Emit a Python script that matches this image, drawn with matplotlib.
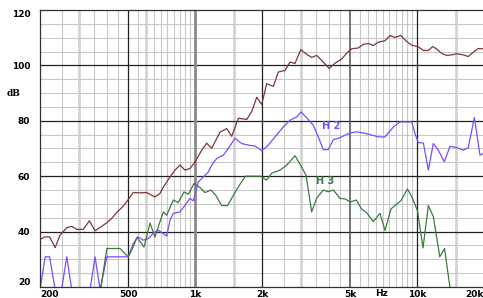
import matplotlib

matplotlib.use("Agg")
import matplotlib.pyplot as plt
from matplotlib.ticker import NullLocator

# fundamental (brown)
fund_freq = [200, 211, 221, 234, 246, 264, 278, 293, 313, 334,
             354, 373, 400, 421, 446, 474, 500, 526, 564, 605,
             659, 694, 719, 770, 811, 854, 900, 948, 1000, 1070,
             1127, 1187, 1294, 1387, 1461, 1565, 1708, 1798, 1894, 1994,
             2100, 2250, 2369, 2539, 2674, 2817, 2988, 3180, 3349, 3528,
             3777, 4020, 4266, 4571, 4814, 5070, 5430, 5720, 6025, 6346,
             6683, 7162, 7546, 7944, 8430, 8975, 9450, 10120, 10660, 11230,
             11750, 12250, 12900, 13590, 14310, 15070, 16140, 16990, 17900, 18850, 19800]
fund_db = [37.2, 38.1, 38.1, 34.2, 38.7, 41.4, 41.9, 40.8, 40.8, 43.9,
           40.3, 41.5, 43.2, 44.8, 47.1, 49.2, 51.6, 54.1, 54.0, 54.1,
           52.5, 53.8, 56.1, 59.7, 62.2, 64.0, 62.2, 62.8, 65.2, 69.4,
           71.9, 70.1, 75.9, 77.2, 74.4, 80.9, 80.5, 83.4, 88.5, 85.9,
           93.4, 92.4, 97.6, 98.2, 101.2, 100.7, 105.7, 104.0, 102.9, 103.6,
           101.2, 98.9, 100.8, 102.3, 104.4, 106.0, 106.3, 107.6, 107.9, 107.2,
           108.4, 108.9, 110.8, 110.1, 110.8, 108.6, 107.3, 106.7, 105.4, 105.4,
           106.8, 105.9, 104.3, 103.6, 103.8, 104.2, 103.8, 103.2, 104.8, 106.1, 106.0]

# second harmonic (purple); 19 = below the bottom of the chart
h2_freq = [200, 211, 221, 234, 250, 264, 278, 336, 354, 373,
           400, 500, 526, 554, 584, 615, 648, 682, 744, 770,
           797, 854, 900, 948, 981, 1033, 1088, 1146, 1187, 1250,
           1294, 1339, 1410, 1511, 1620, 1735, 1860, 1994, 2135, 2290,
           2494, 2674, 2867, 2997, 3180, 3404, 3586, 3777, 3977, 4191,
           4492, 4731, 4984, 5341, 5720, 6133, 6683, 7162, 7546, 7810,
           8369, 9450, 9778, 10120, 10660, 11230, 11820, 12450, 13250, 14060,
           15070, 16140, 16990, 18090, 19190, 19800]
h2_db = [19, 30.9, 30.9, 19, 19, 30.9, 19, 19, 30.9, 19,
         30.9, 30.9, 35.7, 38.1, 36.9, 37.5, 39.4, 40.5, 38.4, 44.1,
         46.6, 47.1, 49.5, 52.0, 51.1, 57.9, 59.7, 61.5, 64.0, 66.4,
         67.0, 67.6, 70.0, 73.7, 71.8, 71.2, 70.9, 69.2, 71.2, 74.2,
         77.8, 80.2, 81.4, 83.2, 81.1, 78.4, 74.2, 69.6, 69.6, 73.2,
         73.9, 74.8, 75.6, 76.0, 75.6, 75.0, 74.2, 74.2, 76.3, 77.8,
         79.6, 79.6, 75.4, 72.1, 72.0, 62.2, 71.8, 69.4, 65.2, 70.8,
         70.3, 69.4, 70.3, 81.2, 67.6, 68.2]

# third harmonic (green)
h3_freq = [375, 400, 458, 500, 526, 547, 588, 626, 659, 694,
           719, 744, 797, 839, 891, 933, 988, 1019, 1051, 1107,
           1179, 1241, 1317, 1399, 1488, 1592, 1686, 1803, 1969, 2096,
           2212, 2410, 2585, 2817, 2982, 3157, 3349, 3528, 3777, 3977,
           4191, 4492, 4731, 4984, 5319, 5623, 5925, 6346, 6802, 7162,
           7623, 8453, 9046, 9530, 10040, 10625, 11230, 11820, 12640, 13280, 14100]
h3_db = [19, 33.9, 33.9, 30.9, 34.5, 38.0, 34.4, 43.1, 38.0, 43.6,
         47.1, 45.9, 51.4, 50.5, 54.3, 53.5, 57.4, 56.6, 55.9, 54.1,
         55.0, 53.0, 49.4, 49.4, 53.2, 57.1, 60.0, 60.0, 60.0, 58.6,
         61.1, 62.2, 64.0, 67.4, 64.0, 60.4, 47.1, 52.1, 55.0, 54.4,
         55.0, 52.0, 51.8, 50.7, 51.4, 48.1, 46.8, 43.6, 46.6, 40.4,
         48.2, 51.2, 55.4, 52.0, 47.4, 34.1, 49.4, 45.5, 30.9, 33.9, 19]

x_ticks = [200, 500, 1000, 2000, 5000, 10000, 20000]
x_labels = ["200", "500", "1k", "2k", "5k", "10k", "20k"]
y_ticks = [20, 40, 60, 80, 100, 120]

FUND_COLOR = "#7a3838"
H2_COLOR = "#7b4dff"
H3_COLOR = "#3d7a3d"

fig = plt.figure(figsize=(4.83, 2.98), dpi=100)
ax = fig.add_axes([40 / 483, 11 / 298, 444 / 483, 277 / 298])
ax.set_xscale("log")
ax.set_xlim(200, 20000)
ax.set_ylim(20, 120)

# light grid
minor_x = ([250, 350, 400, 450, 550, 650, 700, 750, 800, 850, 900, 950]
           + [2500, 3500, 4000, 4500] + list(range(5500, 10000, 500)))
thick_x = [300, 600, 1500, 3000, 15000]
for f in minor_x:
    ax.axvline(f, color="#c8c8c8", lw=0.8, zorder=0)
for f in thick_x:
    ax.axvline(f, color="#d4d4d4", lw=2.0, zorder=0)
for v in range(25, 120, 5):
    if v % 20:
        ax.axhline(v, color="#c8c8c8", lw=0.8, zorder=0)

# dark grid
for v in [40, 60, 80, 100]:
    ax.axhline(v, color="#202020", lw=0.9, zorder=0.5)
for f in [500, 2000, 10000]:
    ax.axvline(f, color="#202020", lw=0.9, zorder=0.5)
ax.axvline(1000, color="#8a8a8a", lw=2.0, zorder=0.5)
ax.axvline(5000, color="#505050", lw=1.1, zorder=0.5)

ax.plot(fund_freq, fund_db, color=FUND_COLOR, lw=0.9)
ax.plot(h2_freq, h2_db, color=H2_COLOR, lw=0.9)
ax.plot(h3_freq, h3_db, color=H3_COLOR, lw=0.9)

ax.text(4100, 78, "H 2", color=H2_COLOR, fontsize=7, fontweight="bold",
        ha="center", va="center")
ax.text(3830, 58.4, "H 3", color=H3_COLOR, fontsize=7, fontweight="bold",
        ha="center", va="center")

for s in ax.spines.values():
    s.set_color("#303030")
    s.set_linewidth(0.9)

ax.xaxis.set_minor_locator(NullLocator())
ax.set_xticks(x_ticks)
ax.set_xticklabels(x_labels, fontsize=6.5, fontweight="bold")
ax.set_yticks(y_ticks)
ax.set_yticklabels([str(v) for v in y_ticks], fontsize=6.5, fontweight="bold")
ax.tick_params(axis="both", length=0)
ax.tick_params(axis="x", pad=2)
ax.tick_params(axis="y", pad=7)

xl = ax.get_xticklabels()
xl[0].set_horizontalalignment("left")
xl[-1].set_horizontalalignment("right")
yl = ax.get_yticklabels()
yl[0].set_verticalalignment("bottom")
yl[-1].set_verticalalignment("top")

ax.text(6900, 19.3, "Hz", fontsize=6.5, fontweight="bold",
        ha="center", va="top", clip_on=False)
fig.text(14 / 483, 1 - 93 / 298, "dB", fontsize=6.5, fontweight="bold",
         family="DejaVu Serif", ha="center", va="center")

fig.savefig("out.png", dpi=100)
